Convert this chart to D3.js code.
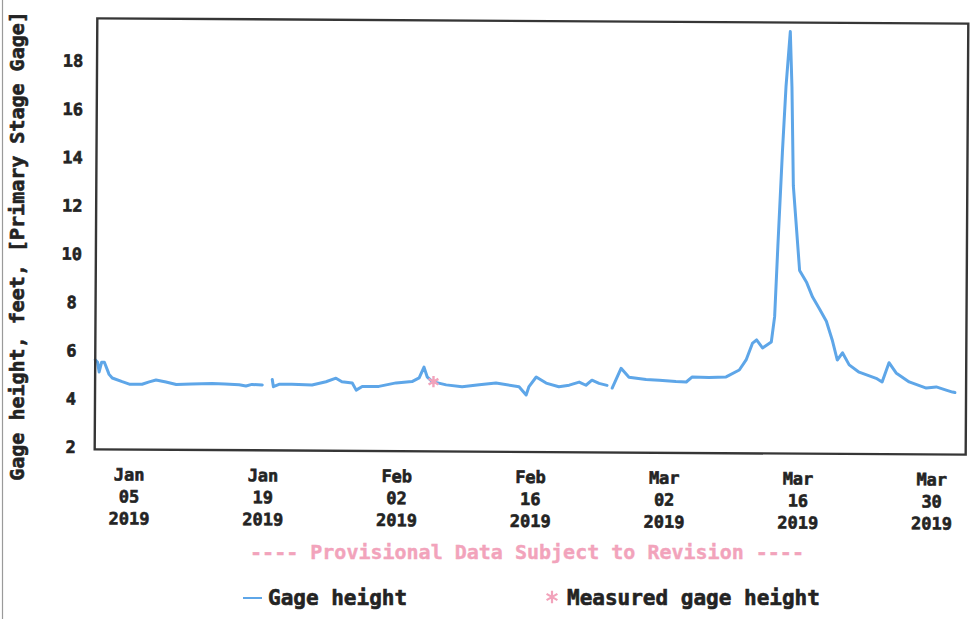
<!DOCTYPE html>
<html><head><meta charset="utf-8">
<script src="https://cdn.jsdelivr.net/npm/d3@7"></script>
<style>
body{margin:0;background:#fff}
text{font-family:"DejaVu Sans Mono","Liberation Mono",monospace;font-weight:bold}
</style>
</head><body>
<svg id="chart" width="971" height="619"></svg>
<script>
// ---- data ----
const dates = [
  "2019-01-01T10","2019-01-01T16","2019-01-01T20","2019-01-02T02","2019-01-02T09","2019-01-02T21",
  "2019-01-03T05","2019-01-04T06","2019-01-05T00","2019-01-06T08","2019-01-07T02","2019-01-07T19",
  "2019-01-08T20","2019-01-09T22","2019-01-11T12","2019-01-13T16","2019-01-15T00","2019-01-16T12",
  "2019-01-17T05","2019-01-17T20","2019-01-18T22","2019-01-19T10",
  "2019-01-19T23","2019-01-20T02","2019-01-20T16","2019-01-22T00","2019-01-24T03","2019-01-25T14",
  "2019-01-26T15","2019-01-27T06","2019-01-28T08","2019-01-28T18","2019-01-29T09","2019-01-31T03",
  "2019-02-01T22","2019-02-03T14","2019-02-04T08","2019-02-04T20","2019-02-05T04","2019-02-05T17",
  "2019-02-07T04","2019-02-08T20","2019-02-10T15","2019-02-12T09","2019-02-14T19","2019-02-15T13",
  "2019-02-15T20","2019-02-16T14","2019-02-17T15","2019-02-18T23","2019-02-20T01","2019-02-21T02",
  "2019-02-21T19","2019-02-22T10","2019-02-23T04","2019-02-24T00","2019-02-24T06",
  "2019-02-24T13","2019-02-25T11","2019-02-26T07","2019-02-28T02","2019-03-01T11","2019-03-03T05",
  "2019-03-04T07","2019-03-04T22","2019-03-06T16","2019-03-08T11","2019-03-09T20","2019-03-10T13",
  "2019-03-11T05","2019-03-11T15","2019-03-12T06","2019-03-13T04","2019-03-13T12","2019-03-13T19",
  "2019-03-14T05","2019-03-14T13","2019-03-14T23","2019-03-15T04","2019-03-15T09","2019-03-16T02",
  "2019-03-16T20","2019-03-17T11","2019-03-18T05","2019-03-18T22","2019-03-19T13","2019-03-20T02",
  "2019-03-20T15","2019-03-21T08","2019-03-22T09","2019-03-24T04","2019-03-24T19","2019-03-25T12",
  "2019-03-26T06","2019-03-27T15","2019-03-29T10","2019-03-30T11","2019-03-31T12","2019-04-01T04",
  "2019-04-01T10"
];
const gageHeight = [
  5.62,5.52,5.12,5.52,5.52,5.02,
  4.87,4.72,4.62,4.62,4.72,4.80,
  4.72,4.62,4.64,4.67,4.65,4.62,
  4.57,4.64,4.62,null,
  4.85,4.55,4.65,4.66,4.63,4.77,
  4.92,4.77,4.72,4.43,4.58,4.59,
  4.74,4.80,4.95,5.40,5.00,4.80,
  4.67,4.60,4.68,4.76,4.61,4.27,
  4.62,5.02,4.77,4.62,4.69,4.82,
  4.69,4.90,4.77,4.69,null,
  4.58,5.40,5.03,4.94,4.92,4.87,
  4.85,5.06,5.04,5.07,5.36,5.78,
  6.48,6.61,6.28,6.53,7.58,10.5,
  14.4,17.1,19.4,17.1,13.0,9.5,
  9.0,8.4,7.9,7.4,6.63,5.8,
  6.1,5.6,5.3,5.05,4.9,5.7,
  5.28,4.91,4.66,4.71,4.58,4.5,
  4.48
];
const measuredDates = ["2019-02-05T20"];
const measuredHeight = [4.8];
const xTickDates = ["2019-01-05T00","2019-01-19T00","2019-02-02T00","2019-02-16T00","2019-03-02T00","2019-03-16T00","2019-03-30T00"];
const yTickValues = [2,4,6,8,10,12,14,16,18];
const yTitle = "Gage height, feet, [Primary Stage Gage]";
const provisionalText = "---- Provisional Data Subject to Revision ----";
const legendLabels = ["Gage height","Measured gage height"];

// ---- drawing ----
const parse = d3.timeParse("%Y-%m-%dT%H");
const series = dates.map((d,i)=>({t:parse(d), v:gageHeight[i]}));
const meas = measuredDates.map((d,i)=>({t:parse(d), v:measuredHeight[i]}));

const L=96, R=967, T=21, B=452;
const x = d3.scaleTime().domain([parse("2019-01-01T10"), parse("2019-04-02T14")]).range([L,R]);
const y = d3.scaleLinear().domain([1.91, 19.77]).range([B,T]);

const BLUE="#5ea6e8", PINK="#f2a3bb", INK="#232323";
const svg = d3.select("#chart");
svg.append("rect").attr("width",971).attr("height",619).attr("fill","#fff");
svg.append("line").attr("x1",2.5).attr("x2",2.5).attr("y1",0).attr("y2",619)
   .attr("stroke","#9a9a9a").attr("stroke-width",1.2);

const g = svg.append("g").attr("transform","rotate(0.35,531,236)");

// data line
const line = d3.line().defined(d=>d.v!=null).x(d=>x(d.t)).y(d=>y(d.v)).curve(d3.curveLinear);
g.append("path").datum(series).attr("d",line).attr("fill","none")
  .attr("stroke",BLUE).attr("stroke-width",3).attr("stroke-linejoin","round").attr("stroke-linecap","round");

// measured marker
const ast = d3.symbol().type(d3.symbolAsterisk).size(90);
g.selectAll(".meas").data(meas).join("path").attr("class","meas")
  .attr("d",ast).attr("transform",d=>`translate(${x(d.t)},${y(d.v)})`)
  .attr("fill","none").attr("stroke",PINK).attr("stroke-width",2.4);

// frame
g.append("rect").attr("x",L).attr("y",T).attr("width",R-L).attr("height",B-T)
  .attr("fill","none").attr("stroke","#363636").attr("stroke-width",2.4);

// y axis
const yAxis = g.append("g").attr("transform",`translate(${L},0)`)
  .call(d3.axisLeft(y).tickValues(yTickValues).tickSize(0).tickFormat(d3.format("d")));
yAxis.select(".domain").remove();
yAxis.selectAll("text").attr("x",-24).attr("text-anchor","middle")
  .style("font-size","17px").style("font-family",null).attr("fill",INK)
  .attr("stroke",INK).attr("stroke-width",0.6);

// x axis
const fmtM = d3.timeFormat("%b"), fmtD = d3.timeFormat("%d"), fmtY = d3.timeFormat("%Y");
const xAxis = g.append("g").attr("transform",`translate(0,${B})`)
  .call(d3.axisBottom(x).tickValues(xTickDates.map(parse)).tickSize(0).tickFormat(""));
xAxis.select(".domain").remove();
xAxis.selectAll(".tick").each(function(d){
  const t = d3.select(this).select("text").attr("y",0).attr("dy",null)
    .attr("text-anchor","middle").style("font-size","17px").attr("fill",INK)
    .attr("stroke",INK).attr("stroke-width",0.6);
  [fmtM(d),fmtD(d),fmtY(d)].forEach((s,i)=>{
    t.append("tspan").attr("x",0).attr("y",31+22*i).text(s);
  });
});

// y title
svg.append("text").attr("transform","translate(24,246) rotate(-90)")
  .attr("text-anchor","middle").style("font-size","20px").attr("fill",INK)
  .attr("stroke",INK).attr("stroke-width",0.6).text(yTitle);

// provisional
svg.append("text").attr("x",527).attr("y",559).attr("text-anchor","middle")
  .style("font-size","20px").attr("fill",PINK).attr("stroke",PINK).attr("stroke-width",0.4)
  .text(provisionalText);

// legend
svg.append("line").attr("x1",243).attr("x2",262).attr("y1",598).attr("y2",598)
  .attr("stroke",BLUE).attr("stroke-width",2);
svg.append("text").attr("x",268).attr("y",605).style("font-size","21px").attr("fill",INK)
  .attr("stroke",INK).attr("stroke-width",0.6).text(legendLabels[0]);
svg.append("path").attr("d",d3.symbol().type(d3.symbolAsterisk).size(110)())
  .attr("transform","translate(552,597)").attr("fill","none").attr("stroke",PINK).attr("stroke-width",2.2);
svg.append("text").attr("x",567).attr("y",605).style("font-size","21px").attr("fill",INK)
  .attr("stroke",INK).attr("stroke-width",0.6).text(legendLabels[1]);
</script>
</body></html>
